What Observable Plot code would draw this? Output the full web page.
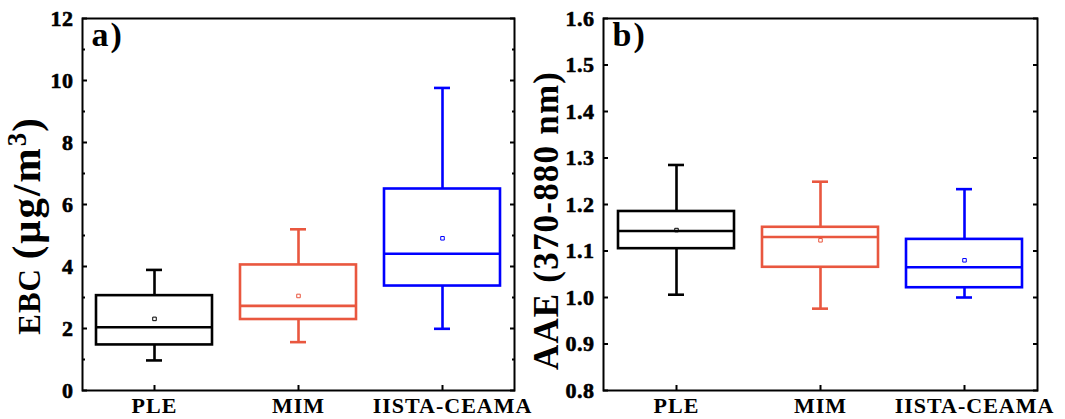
<!DOCTYPE html>
<html>
<head>
<meta charset="utf-8">
<script src="https://cdn.jsdelivr.net/npm/d3@7"></script>
<script src="https://cdn.jsdelivr.net/npm/@observablehq/plot@0.6"></script>
<style>
  html, body { margin: 0; padding: 0; background: white; }
  #row { display: flex; width: 1065px; height: 419px; }
  #row svg { overflow: visible; }
  #row text { font-family: 'Liberation Serif', 'Times New Roman', serif; font-weight: bold; font-variant: normal; }
</style>
</head>
<body>
<div id="row"></div>
<script>
// ---- data ----
const sites = ["PLE", "MIM", "IISTA-CEAMA"];

const ebcMin    = [0.97, 1.56, 1.99];
const ebcQ1     = [1.47, 2.29, 3.37];
const ebcMedian = [2.04, 2.73, 4.41];
const ebcQ3     = [3.06, 4.05, 6.50];
const ebcMax    = [3.89, 5.20, 9.76];
const ebcMean   = [2.31, 3.05, 4.91];

const aaeMin    = [1.006, 0.976, 1.000];
const aaeQ1     = [1.105, 1.065, 1.021];
const aaeMedian = [1.143, 1.130, 1.065];
const aaeQ3     = [1.185, 1.151, 1.125];
const aaeMax    = [1.285, 1.249, 1.233];
const aaeMean   = [1.145, 1.123, 1.080];

const ebcTicks = [0, 2, 4, 6, 8, 10, 12];
const ebcMinorTicks = [1, 3, 5, 7, 9, 11];
const aaeTicks = [0.8, 0.9, 1.0, 1.1, 1.2, 1.3, 1.4, 1.5, 1.6];

// ---- styles ----
const palette = ["#000000", "#e9573f", "#0000ff"];
const FONT = "'Liberation Serif', 'Times New Roman', serif";
const SVGNS = "http://www.w3.org/2000/svg";

function table(mn, q1, md, q3, mx, mean) {
  return sites.map((s, i) => ({site: s, min: mn[i], q1: q1[i], median: md[i], q3: q3[i], max: mx[i], mean: mean[i]}));
}

function panel({data, width, marginLeft, marginRight, domain, ticks, minor, fmt, title, titleSize, titleSpacing, titleDx, titleDy, letter}) {
  const sw = 2.6;
  const marks = [
    Plot.ruleX(data, {x: "site", y1: "q3", y2: "max", stroke: "site", strokeWidth: sw}),
    Plot.ruleX(data, {x: "site", y1: "min", y2: "q1", stroke: "site", strokeWidth: sw}),
    Plot.tickY(data, {x: "site", y: "max", stroke: "site", strokeWidth: sw, insetLeft: 64, insetRight: 64}),
    Plot.tickY(data, {x: "site", y: "min", stroke: "site", strokeWidth: sw, insetLeft: 64, insetRight: 64}),
    Plot.barY(data, {x: "site", y1: "q1", y2: "q3", stroke: "site", fill: "white", strokeWidth: sw, insetLeft: 14, insetRight: 14}),
    Plot.tickY(data, {x: "site", y: "median", stroke: "site", strokeWidth: sw, insetLeft: 14, insetRight: 14}),
    Plot.dot(data, {x: "site", y: "mean", symbol: "square", r: 2, stroke: "site", strokeWidth: 1}),
    Plot.axisY({anchor: "left", ticks, tickSize: 0, tickPadding: 9, tickFormat: fmt, fontSize: 22, fontWeight: "bold", label: null}),
    Plot.axisY({anchor: "left", ticks, tickSize: -5, tickFormat: () => "", strokeWidth: 2, label: null}),
    Plot.axisY({anchor: "right", ticks, tickSize: -5, tickFormat: () => "", strokeWidth: 2, label: null}),
    Plot.axisX({anchor: "bottom", tickSize: 0, tickPadding: 7, fontSize: 22, label: null}),
    Plot.axisX({anchor: "bottom", tickSize: -5, tickFormat: () => "", strokeWidth: 2, label: null}),
    Plot.frame({strokeWidth: 2}),
    Plot.text([title], {frameAnchor: "left", dx: titleDx, dy: titleDy, rotate: -90, textAnchor: "middle", fontSize: titleSize, text: d => d}),
    Plot.text([letter], {frameAnchor: "top-left", dx: 9, dy: 3, textAnchor: "start", lineAnchor: "top", fontSize: 34, text: d => d})
  ];
  if (minor) {
    marks.push(Plot.axisY({anchor: "left", ticks: minor, tickSize: -3, tickFormat: () => "", strokeWidth: 2, label: null}));
    marks.push(Plot.axisY({anchor: "right", ticks: minor, tickSize: -3, tickFormat: () => "", strokeWidth: 2, label: null}));
  }
  const svg = Plot.plot({
    width, height: 419,
    marginLeft, marginRight, marginTop: 18, marginBottom: 29,
    style: {fontFamily: FONT, fontWeight: "bold", color: "black", background: "white", overflow: "visible"},
    x: {type: "band", domain: sites, padding: 0},
    y: {domain},
    color: {domain: sites, range: palette},
    marks
  });
  const tickLabels = new Set(ticks.map(fmt));
  for (const t of svg.querySelectorAll("text")) {
    t.setAttribute("font-weight", "bold");
    t.style.fontWeight = "bold";
    t.style.fontFamily = FONT;
    t.style.fontVariant = "normal";
    const txt = t.textContent;
    if (tickLabels.has(txt)) {
      t.style.letterSpacing = "0.5px";
      t.style.stroke = "black";
      t.style.strokeWidth = "0.6px";
    }
    if (sites.includes(txt)) t.style.letterSpacing = "1px";
    if (txt === "IISTA-CEAMA") t.setAttribute("dx", "10");
    if (txt === letter) t.style.letterSpacing = "2px";
    if (txt === title) {
      t.style.letterSpacing = titleSpacing + "px";
      if (title.includes("³")) {
        t.textContent = "";
        const parts = [
          {s: "EBC ", size: 31, ls: 1},
          {s: "(μg/m", size: 41, ls: 2},
          {s: "3", size: 27, ls: 1, dy: -14},
          {s: ")", size: 41, ls: 0, dy: 14}
        ];
        for (const p of parts) {
          const ts = document.createElementNS(SVGNS, "tspan");
          ts.textContent = p.s;
          ts.setAttribute("font-size", p.size);
          ts.setAttribute("letter-spacing", p.ls);
          if (p.dy) ts.setAttribute("dy", p.dy);
          t.appendChild(ts);
        }
      }
    }
  }
  return svg;
}

const row = document.getElementById("row");
row.append(panel({
  data: table(ebcMin, ebcQ1, ebcMedian, ebcQ3, ebcMax, ebcMean),
  width: 532, marginLeft: 82, marginRight: 18,
  domain: [0, 12], ticks: ebcTicks, minor: ebcMinorTicks, fmt: d3.format("d"),
  title: "EBC (μg/m³)", titleSize: 31, titleSpacing: 1, titleDx: -52, titleDy: 22, letter: "a)"
}));
row.append(panel({
  data: table(aaeMin, aaeQ1, aaeMedian, aaeQ3, aaeMax, aaeMean),
  width: 533, marginLeft: 71, marginRight: 28,
  domain: [0.8, 1.6], ticks: aaeTicks, minor: null, fmt: d3.format(".1f"),
  title: "AAE (370-880 nm)", titleSize: 35, titleSpacing: 1.2, titleDx: -57, titleDy: 16, letter: "b)"
}));
</script>
</body>
</html>
